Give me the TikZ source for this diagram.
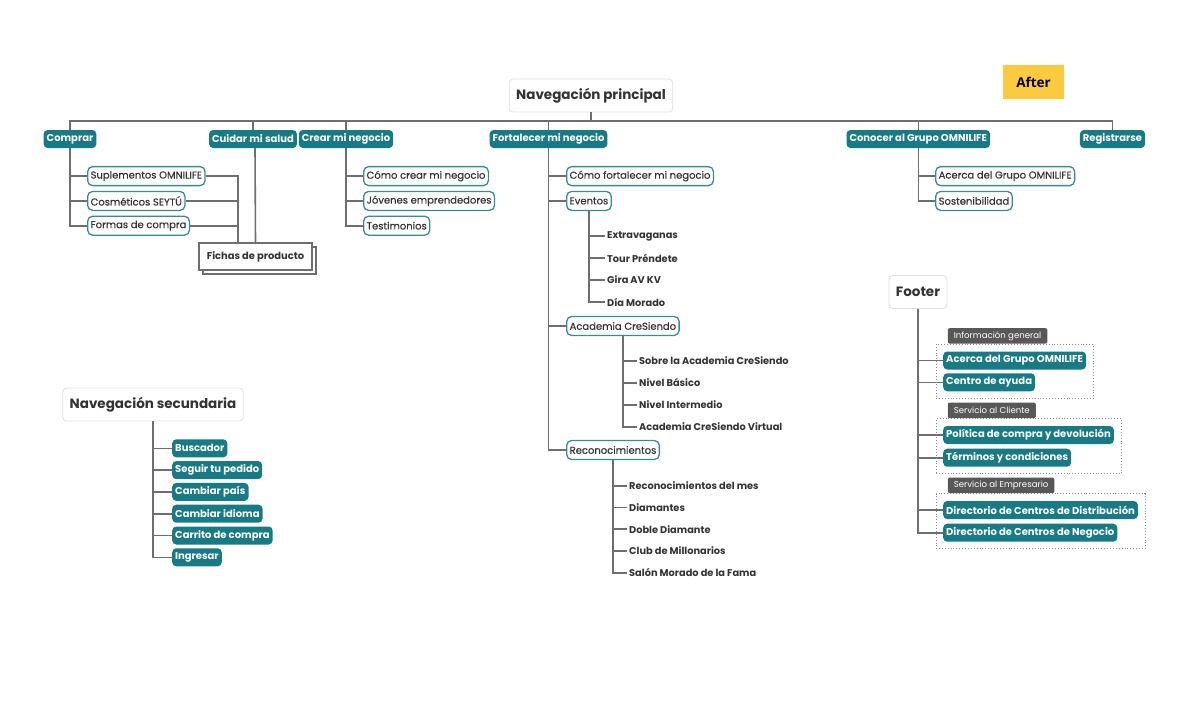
\documentclass[tikz,border=0pt]{standalone}
\usepackage{fontspec}
\setmainfont{Poppins}
\newfontfamily\afterfont{Open Sans}
\newfontfamily\medio{Poppins}[FakeBold=0.35]
\usetikzlibrary{positioning,calc,fit,shadows}
\definecolor{azul}{RGB}{23,122,133}
\definecolor{borde}{RGB}{52,140,150}
\definecolor{linea}{RGB}{110,110,110}
\definecolor{texto}{RGB}{51,51,51}
\definecolor{etiqueta}{RGB}{88,88,88}
\definecolor{amarillo}{RGB}{252,202,63}

\tikzset{
  conn/.style={draw=linea, line width=1.6pt},
  raiz/.style={draw=gray!25, line width=0.8pt, fill=white, rounded corners=4pt, text=texto,
    font=\fontsize{13.5}{15}\selectfont\bfseries, inner xsep=7pt, minimum height=33pt},
  tema/.style={fill=azul, text=white, rounded corners=4pt, font=\fontsize{10}{11}\selectfont\bfseries,
    inner xsep=3pt, inner ysep=0pt, minimum height=18pt},
  subtema/.style={draw=borde, line width=1.3pt, fill=white, rounded corners=5pt, text=texto,
    font=\medio\fontsize{10}{11}\selectfont, inner xsep=3pt, inner ysep=0pt, minimum height=19pt, anchor=west},
  hoja/.style={text=texto, font=\fontsize{9.8}{11}\selectfont\bfseries, inner xsep=2pt, anchor=west},
  grupo/.style={draw=linea!80, dotted, line width=0.9pt, inner sep=7pt},
  pestana/.style={fill=etiqueta, text=white, font=\fontsize{8.6}{9}\selectfont, rounded corners=2pt,
    inner xsep=6pt, inner ysep=0pt, minimum height=15.5pt, anchor=south west},
}

\begin{document}
\begin{tikzpicture}[x=1pt, y=-1pt]
\useasboundingbox (0,0) rectangle (1200,705);

% After
\node[fill=amarillo, minimum width=61pt, minimum height=34pt, font=\afterfont\fontsize{13.5}{15}\selectfont\bfseries] (after) at (1033.5,82) {After};

% Navegacion principal
\node[raiz] (navp) at (591,95.5) {Navegación principal};
\coordinate (bar) at (591,121);

\node[tema] (comprar) at (70,139) {Comprar};
\node[tema] (cuidar) at (253,139) {Cuidar mi salud};
\node[tema] (crear) at (346,139) {Crear mi negocio};
\node[tema] (fortalecer) at (548.5,139) {Fortalecer mi negocio};
\node[tema] (conocer) at (918.3,139) {Conocer al Grupo OMNILIFE};
\node[tema] (registrarse) at (1112.5,139) {Registrarse};

\draw[conn] (navp.south) -- (bar);
\draw[conn] (comprar.north) |- (bar) -| (registrarse.north);
\foreach \n in {cuidar,crear,fortalecer,conocer}
  \draw[conn] (\n.north) -- (\n.north |- bar);

% Comprar
\foreach \t [count=\i] in {Suplementos OMNILIFE, Cosméticos SEYTÚ, Formas de compra} {
  \node[subtema] (cmp\i) at (87,151.3+24.8*\i) {\t};
  \draw[conn] (comprar.south) |- (cmp\i.west);
}

% Fichas de producto
\node[draw=linea, line width=1.1pt, fill=white, text=texto, minimum width=113pt, minimum height=27pt,
  font=\fontsize{9.9}{11}\selectfont\bfseries,
  copy shadow={shadow xshift=4pt, shadow yshift=-4pt, draw=linea, line width=1.1pt, fill=white, opacity=1}]
  (fichas) at (255.5,256.5) {Fichas de producto};
\coordinate (fichasin) at ($(fichas.north)+(-17.5,0)$);
\foreach \i in {1,2,3}
  \draw[conn] (cmp\i.east) -| (fichasin);
\draw[conn] (cuidar.south) ++(2,0) -- ($(fichas.north)+(0,0)$);

% Crear mi negocio
\foreach \t [count=\i] in {Cómo crear mi negocio, Jóvenes emprendedores, Testimonios} {
  \node[subtema] (cre\i) at (363,151.3+24.8*\i) {\t};
  \draw[conn] (crear.south) |- (cre\i.west);
}

% Fortalecer mi negocio
\node[subtema] (fort1) at (566,176.1) {Cómo fortalecer mi negocio};
\node[subtema] (eventos) at (566,200.9) {Eventos};
\node[subtema] (academia) at (566,326) {Academia CreSiendo};
\node[subtema] (reconoc) at (566,450) {Reconocimientos};
\foreach \n in {fort1,eventos,academia,reconoc}
  \draw[conn] (fortalecer.south) |- (\n.west);

\foreach \t [count=\i] in {Extravaganas, Tour Préndete, Gira AV KV, Día Morado} {
  \node[hoja] (ev\i) at (605,214+22*\i) {\t};
  \draw[conn] (eventos.south) |- (ev\i.west);
}
\foreach \t [count=\i] in {Sobre la Academia CreSiendo, Nivel Básico, Nivel Intermedio, Academia CreSiendo Virtual} {
  \node[hoja] (ac\i) at (637,338.7+22*\i) {\t};
  \draw[conn] (academia.south) |- (ac\i.west);
}
\foreach \t [count=\i] in {Reconocimientos del mes, Diamantes, Doble Diamante, Club de Millonarios, Salón Morado de la Fama} {
  \node[hoja] (rec\i) at (627,464+21.75*\i) {\t};
  \draw[conn] (reconoc.south) |- (rec\i.west);
}

% Conocer al Grupo
\foreach \t [count=\i] in {Acerca del Grupo OMNILIFE, Sostenibilidad} {
  \node[subtema] (con\i) at (935,151.3+24.8*\i) {\t};
  \draw[conn] (conocer.south) |- (con\i.west);
}

% Navegacion secundaria
\node[raiz] (navs) at (153,404.5) {Navegación secundaria};
\foreach \t [count=\i] in {Buscador, Seguir tu pedido, Cambiar país, Cambiar idioma, Carrito de compra, Ingresar} {
  \node[tema, anchor=west] (sec\i) at (172,426.5+21.8*\i) {\t};
  \draw[conn] (navs.south) |- (sec\i.west);
}

% Footer
\node[raiz] (footer) at (918,292) {Footer};
\node[tema, anchor=west] (ft1) at (943,360.5) {Acerca del Grupo OMNILIFE};
\node[tema, anchor=west] (ft2) at (943,382.3) {Centro de ayuda};
\node[tema, anchor=west] (ft3) at (943,435) {Política de compra y devolución};
\node[tema, anchor=west] (ft4) at (943,457.7) {Términos y condiciones};
\node[tema, anchor=west] (ft5) at (943,510) {Directorio de Centros de Distribución};
\node[tema, anchor=west] (ft6) at (943,532.7) {Directorio de Centros de Negocio};
\foreach \i in {1,...,6}
  \draw[conn] (footer.south) |- (ft\i.west);

\node[grupo, fit=(ft1)(ft2)] (g1) {};
\node[grupo, fit=(ft3)(ft4)] (g2) {};
\node[grupo, fit=(ft5)(ft6)] (g3) {};
\node[pestana] at ($(g1.north west)+(12,0)$) {Información general};
\node[pestana] at ($(g2.north west)+(12,0)$) {Servicio al Cliente};
\node[pestana] at ($(g3.north west)+(12,0)$) {Servicio al Empresario};

\end{tikzpicture}
\end{document}
